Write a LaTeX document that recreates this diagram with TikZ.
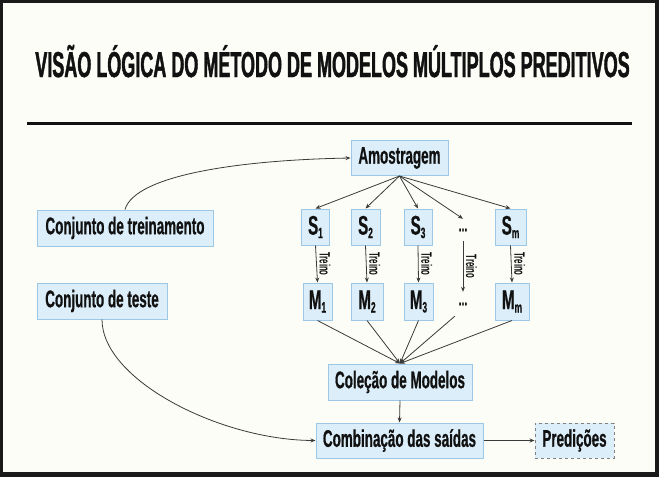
\documentclass[tikz,border=0pt]{standalone}
\usepackage{fontspec}
\setmainfont{Liberation Sans}
\newfontfamily\titlefont{Liberation Sans}[FakeStretch=0.5, FakeBold=1.2]
\newfontfamily\condfont{Liberation Sans}[FakeStretch=0.56, FakeBold=0.6]
\newfontfamily\lblfont{Liberation Sans}[FakeStretch=0.52]
\usetikzlibrary{arrows.meta}
\definecolor{bgcream}{HTML}{FDFDF7}
\definecolor{frame}{HTML}{1A1A1A}
\definecolor{boxfill}{HTML}{DCEEF9}
\definecolor{boxline}{HTML}{9CC8E6}
\definecolor{ink}{HTML}{111111}
\definecolor{wire}{HTML}{3A3A3A}
\newcommand\mysub[1]{\raisebox{-3.5pt}{\fontsize{15}{15}\selectfont #1}}
\tikzset{
  box/.style={draw=boxline, fill=boxfill, line width=1pt, inner sep=0pt, text=ink,
    font=\condfont\bfseries\fontsize{24}{24}\selectfont},
  smbox/.style={box, font=\condfont\bfseries\fontsize{27}{27}\selectfont, minimum height=36pt},
  dotsnode/.style={inner sep=0pt, text=ink, font=\condfont\bfseries\fontsize{18}{18}\selectfont},
  arr/.style={draw=wire, line width=0.8pt, -{Stealth[length=5pt,width=4pt]}},
  lbl/.style={anchor=south, rotate=-90, inner sep=2.5pt, text=ink,
    font=\lblfont\bfseries\fontsize{15}{15}\selectfont}
}
\begin{document}
\begin{tikzpicture}[x=1pt,y=-1pt]
\fill[frame] (0,0) rectangle (659,477);
\fill[bgcream] (3,3) rectangle (655,472);
\useasboundingbox (0,0) rectangle (659,477);
% title
\node[anchor=base, inner sep=0pt, text=ink, font=\titlefont\bfseries\fontsize{36}{36}\selectfont] (title) at (332.5,77)
  {VISÃO LÓGICA DO MÉTODO DE MODELOS MÚLTIPLOS PREDITIVOS};
\coordinate (rl) at (27,123);
\coordinate (rr) at (632,123);
\draw[ink, line width=3pt] (rl) -- (rr);
% nodes
\node[box, minimum width=97pt, minimum height=35pt] (amo) at (399.5,158) {Amostragem};
\node[box, minimum width=176pt, minimum height=36pt] (treino) at (125,228) {Conjunto de treinamento};
\node[box, minimum width=130pt, minimum height=36pt] (teste) at (102,301) {Conjunto de teste};
\node[smbox, minimum width=28pt] (s1) at (315.5,227) {S\mysub{1}};
\node[smbox, minimum width=29pt] (s2) at (365.5,227) {S\mysub{2}};
\node[smbox, minimum width=28pt] (s3) at (418,227) {S\mysub{3}};
\node[dotsnode, minimum width=16pt, minimum height=22pt] (sd) at (463,230) {...};
\node[smbox, minimum width=31pt] (sm) at (510.5,227) {S\mysub{m}};
\node[smbox, minimum width=29pt, minimum height=37pt] (m1) at (317.5,301.5) {M\mysub{1}};
\node[smbox, minimum width=32pt, minimum height=37pt] (m2) at (367,301.5) {M\mysub{2}};
\node[smbox, minimum width=29pt, minimum height=37pt] (m3) at (418.5,301.5) {M\mysub{3}};
\node[dotsnode, minimum width=16pt, minimum height=24pt] (md) at (463,304) {...};
\node[smbox, minimum width=34pt, minimum height=37pt] (mm) at (512,301.5) {M\mysub{m}};
\node[box, minimum width=144pt, minimum height=36pt] (col) at (400,382) {Coleção de Modelos};
\node[box, dashed, draw=gray, minimum width=79pt, minimum height=35pt] (pred) at (574.5,440.5) {Predições};
\node[box, minimum width=167pt, minimum height=35pt] (comb) at (399.5,440.5) {Combinação das saídas};
% fan out
\foreach \t in {s1,s2,s3,sd,sm} \draw[arr] (amo.south) -- (\t.north);
% training
\foreach \a/\b in {s1/m1,s2/m2,s3/m3,sd/md,sm/mm}
  \draw[arr] (\a.south) -- (\b.north) node[lbl, midway] {Treino};
% fan in
\foreach \t in {m1,m2,m3,mm} \draw[arr] (\t.south) -- (col.north);
\draw[arr] (md.south west) -- (col.north);
\draw[arr] (col.south) -- (comb.north);
\draw[arr] (comb.east) -- (pred.west);
% curves
\draw[arr] (treino.north) .. controls (135,175) and (240,160) .. (amo.west);
\draw[arr] (teste.south) .. controls (102,380) and (220,440) .. (comb.west);
\end{tikzpicture}
\end{document}
